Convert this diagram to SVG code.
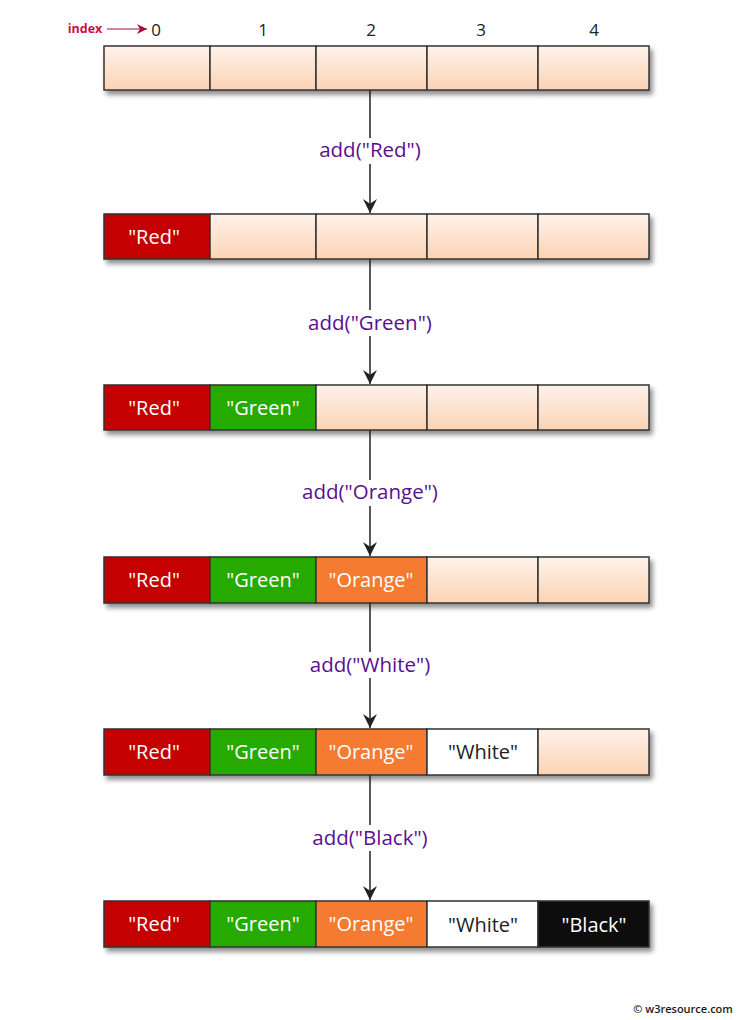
<svg xmlns="http://www.w3.org/2000/svg" width="737" height="1020" viewBox="0 0 737 1020">
<defs>
<linearGradient id="peach" x1="0" y1="0" x2="0" y2="1">
<stop offset="0" stop-color="#fff2ea"/>
<stop offset="1" stop-color="#fcd3b5"/>
</linearGradient>
<filter id="sh" x="-5%" y="-30%" width="112%" height="180%">
<feDropShadow dx="3" dy="4" stdDeviation="2.5" flood-color="#000" flood-opacity="0.45"/>
</filter>
<marker id="ah" viewBox="0 0 10 10" refX="10" refY="5" markerWidth="10" markerHeight="10" markerUnits="userSpaceOnUse" orient="auto">
<path d="M0,0 L10,5 L0,10 L3,5 Z" fill="#a0103a"/>
</marker>
<marker id="ah2" viewBox="0 0 12 12" refX="12" refY="6" markerWidth="14" markerHeight="14" markerUnits="userSpaceOnUse" orient="auto">
<path d="M0,0 L12,6 L0,12 L4,6 Z" fill="#222"/>
</marker>
</defs>
<style>
.cell{stroke:#333;stroke-width:1.5}
.e{fill:url(#peach)}
.r{fill:#c40000}
.g{fill:#26aa05}
.o{fill:#f57a30}
.w{fill:#ffffff}
.b{fill:#111111}
.t{font-family:"Open Sans","Noto Sans",sans-serif;font-size:20px;text-anchor:middle;fill:#ffffff}
.tk{fill:#222}
.idx{font-family:"Open Sans","Noto Sans",sans-serif;font-size:17px;text-anchor:middle;fill:#222}
.lbl{font-family:"Open Sans","Noto Sans",sans-serif;font-size:20.5px;text-anchor:middle;fill:#5a1090}
.conn{stroke:#222;stroke-width:1.5;fill:none}
</style>
<rect width="737" height="1020" fill="#fff"/>

<g id="index-labels">
<text x="85" y="33" font-family="Open Sans, Noto Sans, sans-serif" font-size="12.5" font-weight="bold" text-anchor="middle" fill="#c8104a">index</text>
<line x1="107" y1="29" x2="147" y2="29" stroke="#a0103a" stroke-width="1" marker-end="url(#ah)"/>
<text class="idx" x="156" y="36">0</text>
<text class="idx" x="263" y="36">1</text>
<text class="idx" x="371" y="36">2</text>
<text class="idx" x="481" y="36">3</text>
<text class="idx" x="594" y="36">4</text>
</g>

<g id="row0" filter="url(#sh)">
<rect class="cell e" x="104" y="46" width="106" height="44"/>
<rect class="cell e" x="210" y="46" width="106" height="44"/>
<rect class="cell e" x="316" y="46" width="111" height="44"/>
<rect class="cell e" x="427" y="46" width="111" height="44"/>
<rect class="cell e" x="538" y="46" width="111" height="44"/>
</g>

<g id="row1" filter="url(#sh)">
<rect class="cell r" x="104" y="214" width="106" height="45"/>
<rect class="cell e" x="210" y="214" width="106" height="45"/>
<rect class="cell e" x="316" y="214" width="111" height="45"/>
<rect class="cell e" x="427" y="214" width="111" height="45"/>
<rect class="cell e" x="538" y="214" width="111" height="45"/>
</g>
<g id="row1-text"><text class="t" x="154" y="244">"Red"</text></g>

<g id="row2" filter="url(#sh)">
<rect class="cell r" x="104" y="385" width="106" height="45"/>
<rect class="cell g" x="210" y="385" width="106" height="45"/>
<rect class="cell e" x="316" y="385" width="111" height="45"/>
<rect class="cell e" x="427" y="385" width="111" height="45"/>
<rect class="cell e" x="538" y="385" width="111" height="45"/>
</g>
<g id="row2-text"><text class="t" x="154" y="415">"Red"</text><text class="t" x="263" y="415">"Green"</text></g>

<g id="row3" filter="url(#sh)">
<rect class="cell r" x="104" y="557" width="106" height="46"/>
<rect class="cell g" x="210" y="557" width="106" height="46"/>
<rect class="cell o" x="316" y="557" width="111" height="46"/>
<rect class="cell e" x="427" y="557" width="111" height="46"/>
<rect class="cell e" x="538" y="557" width="111" height="46"/>
</g>
<g id="row3-text"><text class="t" x="154" y="587">"Red"</text><text class="t" x="263" y="587">"Green"</text><text class="t" x="371" y="587">"Orange"</text></g>

<g id="row4" filter="url(#sh)">
<rect class="cell r" x="104" y="729" width="106" height="46"/>
<rect class="cell g" x="210" y="729" width="106" height="46"/>
<rect class="cell o" x="316" y="729" width="111" height="46"/>
<rect class="cell w" x="427" y="729" width="111" height="46"/>
<rect class="cell e" x="538" y="729" width="111" height="46"/>
</g>
<g id="row4-text"><text class="t" x="154" y="759">"Red"</text><text class="t" x="263" y="759">"Green"</text><text class="t" x="371" y="759">"Orange"</text><text class="t tk" x="483" y="759">"White"</text></g>

<g id="row5" filter="url(#sh)">
<rect class="cell r" x="104" y="901" width="106" height="46"/>
<rect class="cell g" x="210" y="901" width="106" height="46"/>
<rect class="cell o" x="316" y="901" width="111" height="46"/>
<rect class="cell w" x="427" y="901" width="111" height="46"/>
<rect class="cell b" x="538" y="901" width="111" height="46"/>
</g>
<g id="row5-text"><text class="t" x="154" y="931">"Red"</text><text class="t" x="263" y="931">"Green"</text><text class="t" x="371" y="931">"Orange"</text><text class="t tk" x="483" y="932">"White"</text><text class="t" x="594" y="932">"Black"</text></g>

<g id="connectors">
<line class="conn" x1="370" y1="90" x2="370" y2="213" marker-end="url(#ah2)"/>
<line class="conn" x1="370" y1="259" x2="370" y2="384" marker-end="url(#ah2)"/>
<line class="conn" x1="370" y1="430" x2="370" y2="556" marker-end="url(#ah2)"/>
<line class="conn" x1="370" y1="603" x2="370" y2="728" marker-end="url(#ah2)"/>
<line class="conn" x1="370" y1="775" x2="370" y2="900" marker-end="url(#ah2)"/>
</g>

<g id="labels">
<rect x="316" y="138" width="108" height="26" fill="#fff"/>
<text class="lbl" x="370" y="157">add("Red")</text>
<rect x="304" y="310" width="132" height="26" fill="#fff"/>
<text class="lbl" x="370" y="330">add("Green")</text>
<rect x="297" y="480" width="146" height="26" fill="#fff"/>
<text class="lbl" x="370" y="499">add("Orange")</text>
<rect x="308" y="652" width="124" height="26" fill="#fff"/>
<text class="lbl" x="370" y="672">add("White")</text>
<rect x="309" y="825" width="122" height="26" fill="#fff"/>
<text class="lbl" x="370" y="845">add("Black")</text>
</g>

<g id="credit">
<text x="683" y="1013" font-family="Open Sans, Noto Sans, sans-serif" font-size="11" font-weight="600" text-anchor="middle" fill="#222">© w3resource.com</text>
</g>
</svg>
